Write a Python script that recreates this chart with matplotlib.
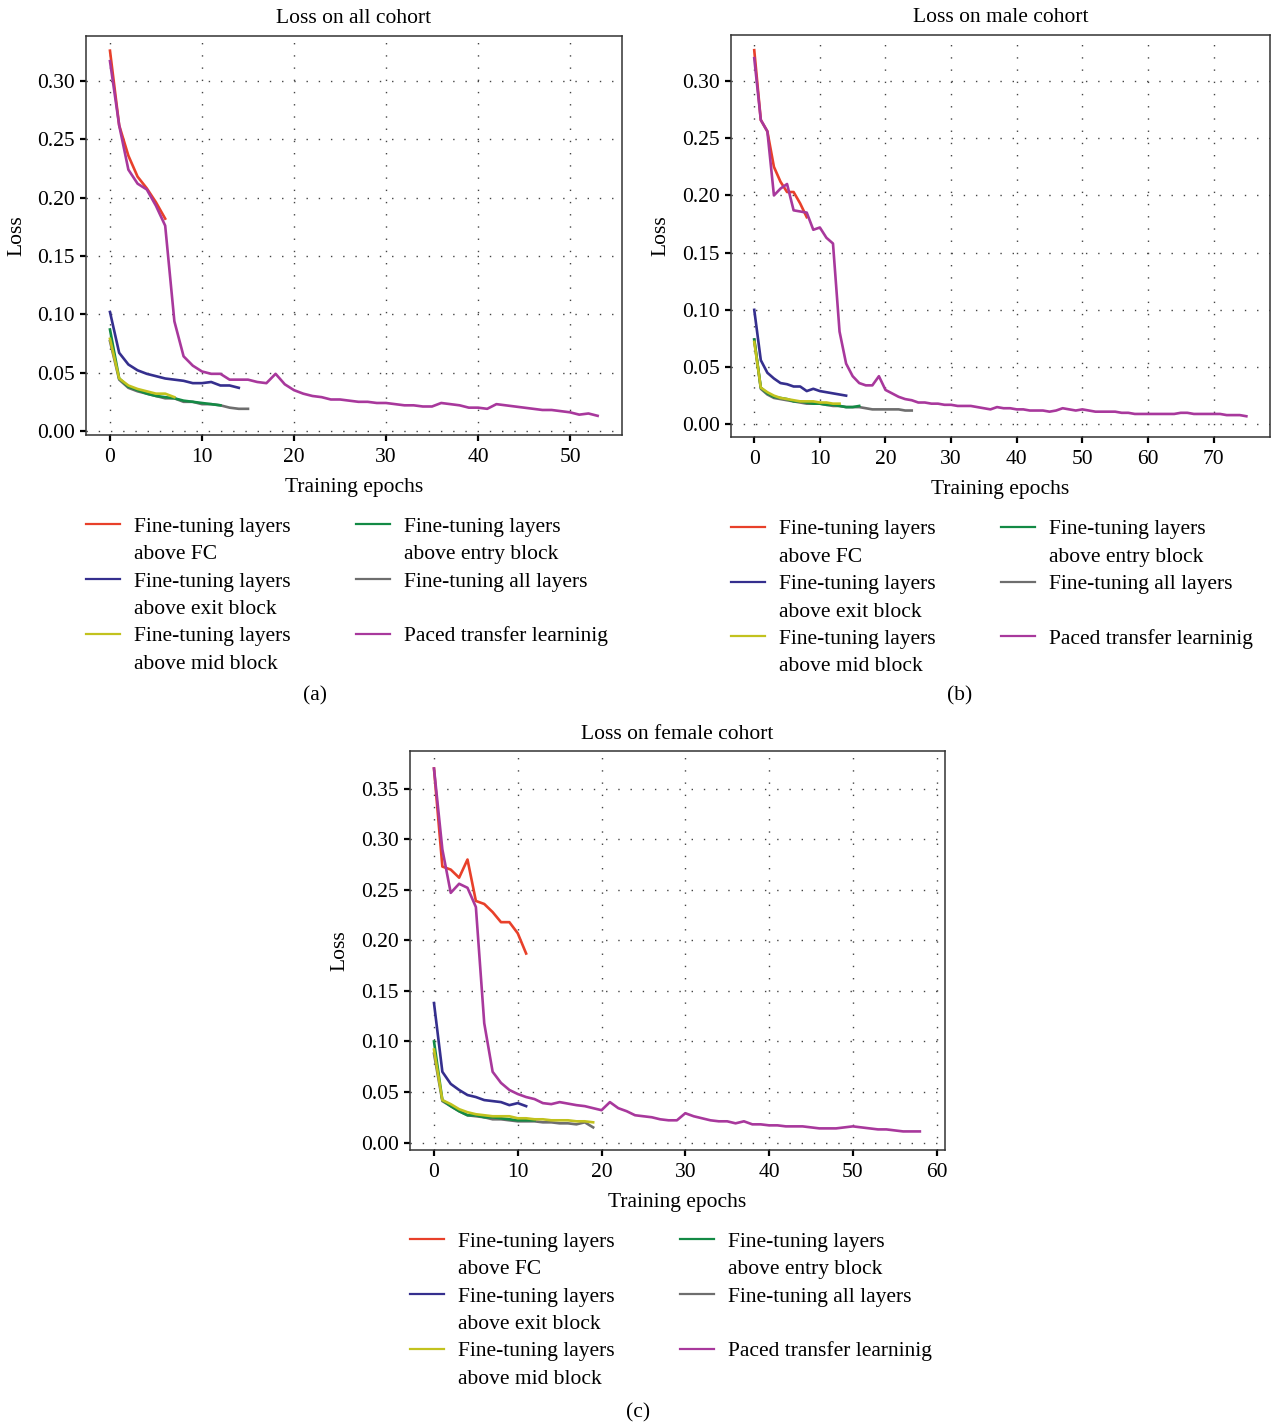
"""Loss curves for the three cohorts"""

import numpy as np
import matplotlib
matplotlib.use("Agg")
import matplotlib.pyplot as plt
from matplotlib.lines import Line2D

plt.rcParams['font.family'] = ['Liberation Serif', 'DejaVu Serif']

# series names, in legend order (column-wise)
names = ["Fine-tuning layers\nabove FC",
         "Fine-tuning layers\nabove exit block",
         "Fine-tuning layers\nabove mid block",
         "Fine-tuning layers\nabove entry block",
         "Fine-tuning all layers",
         "Paced transfer learninig"]
colors = ["#e8402a", "#352f8e", "#c2c21e", "#138a45", "#6e6e6e", "#a8389c"]

# (a) all cohort
a_fc = [0.326, 0.262, 0.236, 0.218, 0.208, 0.196, 0.182]
a_exit = [0.102, 0.067, 0.057, 0.052, 0.049, 0.047, 0.045, 0.044, 0.043, 0.041,
          0.041, 0.042, 0.039, 0.039, 0.037]
a_mid = [0.079, 0.045, 0.039, 0.036, 0.034, 0.032, 0.032, 0.029]
a_entry = [0.087, 0.045, 0.038, 0.035, 0.032, 0.030, 0.029, 0.028, 0.026, 0.025,
           0.024, 0.023, 0.022]
a_all = [0.077, 0.044, 0.037, 0.034, 0.032, 0.030, 0.028, 0.028, 0.025, 0.025,
         0.023, 0.023, 0.022, 0.020, 0.019, 0.019]
a_paced = [0.317, 0.262, 0.224, 0.212, 0.207, 0.193, 0.176, 0.094, 0.064, 0.056,
           0.051, 0.049, 0.049, 0.044, 0.044, 0.044, 0.042, 0.041, 0.049, 0.040,
           0.035, 0.032, 0.030, 0.029, 0.027, 0.027, 0.026, 0.025, 0.025, 0.024,
           0.024, 0.023, 0.022, 0.022, 0.021, 0.021, 0.024, 0.023, 0.022, 0.020,
           0.020, 0.019, 0.023, 0.022, 0.021, 0.020, 0.019, 0.018, 0.018, 0.017,
           0.016, 0.014, 0.015, 0.013]
a_xticks = [0, 10, 20, 30, 40, 50]

# (b) male cohort
b_fc = [0.327, 0.266, 0.256, 0.225, 0.212, 0.203, 0.203, 0.193, 0.181]
b_exit = [0.100, 0.056, 0.045, 0.040, 0.036, 0.035, 0.033, 0.033, 0.029, 0.031,
          0.029, 0.028, 0.027, 0.026, 0.025]
b_mid = [0.072, 0.032, 0.028, 0.025, 0.023, 0.022, 0.021, 0.020, 0.020, 0.020,
         0.019, 0.019, 0.018, 0.018]
b_entry = [0.074, 0.032, 0.027, 0.024, 0.023, 0.022, 0.020, 0.020, 0.019, 0.018,
           0.018, 0.017, 0.017, 0.016, 0.015, 0.015, 0.016]
b_all = [0.074, 0.031, 0.026, 0.023, 0.022, 0.021, 0.020, 0.019, 0.018, 0.018,
         0.018, 0.017, 0.016, 0.016, 0.015, 0.015, 0.015, 0.014, 0.013, 0.013,
         0.013, 0.013, 0.013, 0.012, 0.012]
b_paced = [0.320, 0.266, 0.256, 0.200, 0.206, 0.210, 0.187, 0.186, 0.185, 0.170,
           0.172, 0.163, 0.158, 0.081, 0.053, 0.042, 0.036, 0.034, 0.034, 0.042,
           0.030, 0.027, 0.024, 0.022, 0.021, 0.019, 0.019, 0.018, 0.018, 0.017,
           0.017, 0.016, 0.016, 0.016, 0.015, 0.014, 0.013, 0.015, 0.014, 0.014,
           0.013, 0.013, 0.012, 0.012, 0.012, 0.011, 0.012, 0.014, 0.013, 0.012,
           0.013, 0.012, 0.011, 0.011, 0.011, 0.011, 0.010, 0.010, 0.009, 0.009,
           0.009, 0.009, 0.009, 0.009, 0.009, 0.010, 0.010, 0.009, 0.009, 0.009,
           0.009, 0.009, 0.008, 0.008, 0.008, 0.007]
b_xticks = [0, 10, 20, 30, 40, 50, 60, 70]

# (c) female cohort
c_fc = [0.370, 0.273, 0.270, 0.262, 0.280, 0.239, 0.236, 0.228, 0.218, 0.218,
        0.207, 0.187]
c_exit = [0.138, 0.070, 0.058, 0.052, 0.047, 0.045, 0.042, 0.041, 0.040, 0.037,
          0.039, 0.036]
c_mid = [0.092, 0.042, 0.038, 0.033, 0.030, 0.028, 0.027, 0.026, 0.026, 0.026,
         0.024, 0.024, 0.023, 0.023, 0.022, 0.022, 0.022, 0.021, 0.021, 0.020]
c_entry = [0.100, 0.042, 0.036, 0.031, 0.027, 0.027, 0.025, 0.025, 0.024, 0.023,
           0.022, 0.022, 0.022]
c_all = [0.088, 0.041, 0.036, 0.031, 0.027, 0.026, 0.025, 0.023, 0.023, 0.022,
         0.021, 0.021, 0.021, 0.020, 0.020, 0.019, 0.019, 0.018, 0.020, 0.015]
c_paced = [0.370, 0.290, 0.247, 0.256, 0.252, 0.233, 0.118, 0.070, 0.059, 0.052,
           0.048, 0.045, 0.043, 0.039, 0.038, 0.040, 0.0385, 0.037, 0.036, 0.034,
           0.032, 0.040, 0.034, 0.031, 0.027, 0.026, 0.025, 0.023, 0.022, 0.022,
           0.029, 0.026, 0.024, 0.022, 0.021, 0.021, 0.019, 0.021, 0.018, 0.018,
           0.017, 0.017, 0.016, 0.016, 0.016, 0.015, 0.014, 0.014, 0.014, 0.015,
           0.016, 0.015, 0.014, 0.013, 0.013, 0.012, 0.011, 0.011, 0.011]
c_xticks = [0, 10, 20, 30, 40, 50, 60]

FS = 15.5
DOTS = (0, (1, 7.8))
draw_order = [4, 3, 2, 1, 0, 5]


def panel(fig, rect, series, title, xlim, ylim, xticks, yticks):
    ax = fig.add_axes(rect)
    for i in draw_order:
        y = series[i]
        ax.plot(np.arange(len(y)), y, color=colors[i], lw=1.9)
    ax.set_xlim(*xlim)
    ax.set_ylim(*ylim)
    ax.set_xticks(xticks)
    ax.set_yticks(yticks)
    ax.set_yticklabels([f"{t:.2f}" for t in yticks])
    ax.grid(True, color="#444444", linestyle=DOTS, linewidth=1.0)
    ax.tick_params(direction="out", length=4, width=1.6, labelsize=FS, pad=4)
    ax.tick_params(axis="x", pad=5.5)
    for sp in ax.spines.values():
        sp.set_color("#333333")
        sp.set_linewidth(1.1)
    ax.set_title(title, fontsize=FS, pad=9)
    ax.set_xlabel("Training epochs", fontsize=FS, labelpad=8)
    ax.set_ylabel("Loss", fontsize=FS, labelpad=8)

    # legend: one row per text line, continuation lines have no handle
    blank = Line2D([], [], linestyle="none")
    handles, labels = [], []
    for i, name in enumerate(names):
        parts = name.split("\n")
        handles.append(Line2D([], [], color=colors[i], lw=1.6))
        labels.append(parts[0])
        handles.append(blank)
        labels.append(parts[1] if len(parts) > 1 else " ")
    ax.legend(handles, labels, loc="upper left", bbox_to_anchor=(0.0, -0.205),
              ncol=2, frameon=False, fontsize=FS, borderpad=0, borderaxespad=0,
              handlelength=1.6, handletextpad=0.65, labelspacing=0.34,
              columnspacing=3.0)
    return ax


def main() -> None:
    fig = plt.figure(figsize=(12.71, 14.27), dpi=100)
    panel(fig, [0.0677, 0.6952, 0.4217, 0.2796],
          [a_fc, a_exit, a_mid, a_entry, a_all, a_paced],
          "Loss on all cohort", (-2.6, 55.65), (-0.0034, 0.3386),
          a_xticks, np.arange(0, 0.31, 0.05))
    panel(fig, [0.5751, 0.6938, 0.4241, 0.2817],
          [b_fc, b_exit, b_mid, b_entry, b_all, b_paced],
          "Loss on male cohort", (-3.55, 78.6), (-0.0111, 0.3403),
          b_xticks, np.arange(0, 0.31, 0.05))
    panel(fig, [0.3226, 0.1941, 0.4209, 0.2796],
          [c_fc, c_exit, c_mid, c_entry, c_all, c_paced],
          "Loss on female cohort", (-2.86, 61.0), (-0.0074, 0.3873),
          c_xticks, np.arange(0, 0.36, 0.05))
    fig.text(315 / 1271, 1 - 696 / 1427, "(a)", ha="center", va="center", fontsize=FS)
    fig.text(960 / 1271, 1 - 696 / 1427, "(b)", ha="center", va="center", fontsize=FS)
    fig.text(638 / 1271, 1 - 1413 / 1427, "(c)", ha="center", va="center", fontsize=FS)
    fig.savefig("out.png", dpi=100)


if __name__ == "__main__":
    main()
